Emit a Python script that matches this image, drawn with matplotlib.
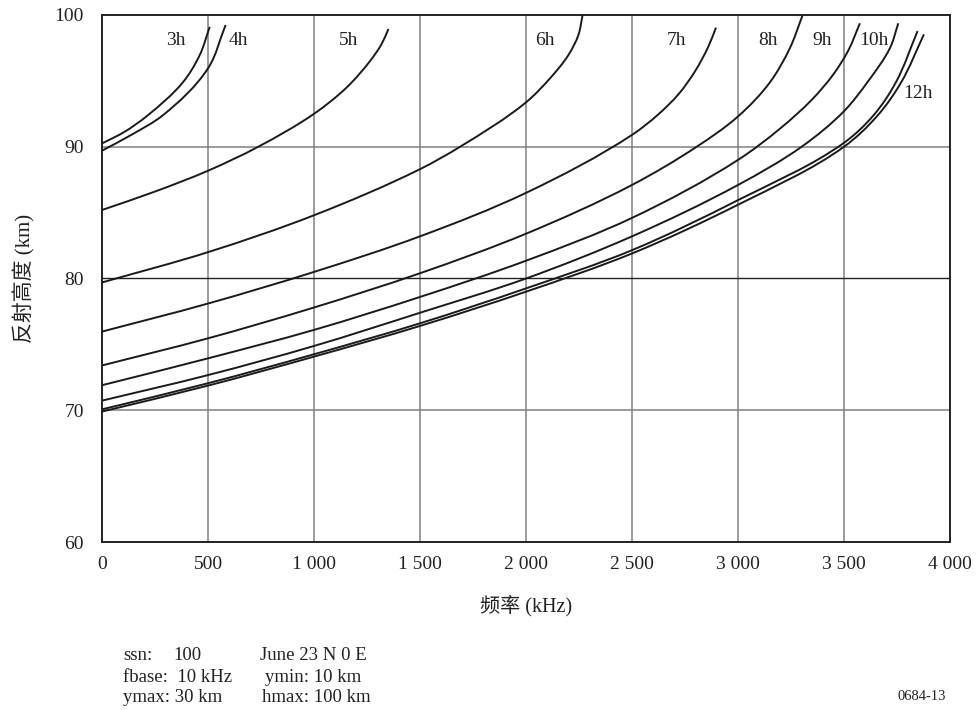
import matplotlib
matplotlib.use("Agg")
import numpy as np
import matplotlib.pyplot as plt
from matplotlib.path import Path
from matplotlib.patches import PathPatch

plt.rcParams['font.family'] = ['Liberation Serif', 'Noto Sans CJK SC', 'DejaVu Sans']

# Reflection height (km) against frequency (kHz), one curve per local hour
curve_names = ["3h", "4h", "5h", "6h", "7h", "8h", "9h", "10h", "11h", "12h"]

freq_3h = [0, 107, 217, 382, 461, 508]
height_3h = [90.25, 91.14, 92.4, 94.9, 96.96, 99.1]

freq_4h = [0, 138, 288, 500, 583]
height_4h = [89.7, 90.9, 92.4, 95.95, 99.24]

freq_5h = [0, 250, 500, 737, 1000, 1154, 1264, 1319, 1351]
height_5h = [85.2, 86.6, 88.18, 90.0, 92.5, 94.5, 96.5, 97.8, 98.94]

freq_6h = [0, 500, 1000, 1500, 1689, 2000, 2113, 2200, 2247, 2267]
height_6h = [79.7, 82.0, 84.8, 88.3, 90.0, 93.37, 95.19, 96.96, 98.48, 100.0]

freq_7h = [0, 500, 1000, 1500, 2000, 2500, 2620, 2720, 2800, 2860, 2896]
height_7h = [75.97, 78.1, 80.5, 83.2, 86.5, 90.9, 92.4, 94.0, 95.8, 97.6, 99.04]

freq_8h = [0, 500, 1000, 1500, 2000, 2500, 2805, 3000, 3151, 3245, 3305]
height_8h = [73.4, 75.46, 77.8, 80.4, 83.4, 87.1, 90.0, 92.3, 94.9, 97.5, 100.0]

freq_9h = [0, 500, 1000, 1500, 2000, 2500, 3000, 3200, 3350, 3450, 3520, 3575]
height_9h = [71.9, 73.94, 76.1, 78.6, 81.35, 84.6, 89.0, 91.4, 93.6, 95.5, 97.3, 99.37]

freq_10h = [0, 500, 1000, 1500, 2000, 2500, 3000, 3300, 3500, 3615, 3717, 3756]
height_10h = [70.73, 72.67, 74.88, 77.4, 80.0, 83.2, 87.1, 90.0, 92.7, 95.0, 97.5, 99.37]

freq_11h = [0, 500, 1000, 1500, 2000, 2500, 3000, 3500, 3640, 3745, 3847]
height_11h = [70.07, 72.05, 74.25, 76.6, 79.25, 82.15, 85.95, 90.3, 92.4, 94.9, 98.78]

freq_12h = [0, 500, 1000, 1500, 2000, 2500, 3000, 3500, 3660, 3770, 3877]
height_12h = [69.9, 71.87, 74.07, 76.4, 79.0, 81.9, 85.6, 90.0, 92.4, 94.9, 98.53]

curves = [
    (freq_3h, height_3h), (freq_4h, height_4h), (freq_5h, height_5h),
    (freq_6h, height_6h), (freq_7h, height_7h), (freq_8h, height_8h),
    (freq_9h, height_9h), (freq_10h, height_10h), (freq_11h, height_11h),
    (freq_12h, height_12h),
]

x_ticks = [0, 500, 1000, 1500, 2000, 2500, 3000, 3500, 4000]
x_tick_labels = ["0", "500", "1 000", "1 500", "2 000", "2 500", "3 000", "3 500", "4 000"]
y_ticks = [60, 70, 80, 90, 100]

# where each hour label sits (frequency, height); 11h carries no label
label_spots = {
    "3h": (349, 98.1), "4h": (642, 98.1), "5h": (1162, 98.1),
    "6h": (2090, 98.1), "7h": (2711, 98.1), "8h": (3143, 98.1),
    "9h": (3395, 98.1), "10h": (3640, 98.1), "12h": (3848, 94.05),
}

fig = plt.figure(figsize=(9.79, 7.10), dpi=100)
ax = fig.add_axes([0.1042, 0.2366, 0.8662, 0.7423])

ax.set_xlim(0, 4000)
ax.set_ylim(60, 100)


def smooth_path(f, h):
    """Cubic Bezier path through the given points (tangents from neighbours,
    computed in a frame scaled like the plot area)."""
    sx, sy = 848.0 / 4000.0, 527.0 / 40.0
    p = np.column_stack([np.asarray(f, float) * sx, np.asarray(h, float) * sy])
    n = len(p)
    tang = np.zeros_like(p)
    for i in range(n):
        if i == 0:
            d = p[1] - p[0]
        elif i == n - 1:
            d = p[-1] - p[-2]
        else:
            a = p[i] - p[i - 1]
            b = p[i + 1] - p[i]
            d = a / np.linalg.norm(a) + b / np.linalg.norm(b)
        tang[i] = d / np.linalg.norm(d)
    verts = [p[0]]
    codes = [Path.MOVETO]
    for i in range(n - 1):
        seg = np.linalg.norm(p[i + 1] - p[i]) / 3.0
        verts += [p[i] + tang[i] * seg, p[i + 1] - tang[i + 1] * seg, p[i + 1]]
        codes += [Path.CURVE4] * 3
    verts = np.array(verts)
    verts[:, 0] /= sx
    verts[:, 1] /= sy
    return Path(verts, codes)


# grid
for xv in x_ticks[1:-1]:
    ax.axvline(xv, color="#808080", lw=1.1, zorder=1)
for yv in (70, 90):
    ax.axhline(yv, color="#808080", lw=1.1, zorder=1)
ax.axhline(80, color="#222222", lw=1.0, zorder=1)

for (f, h) in curves:
    ax.add_patch(PathPatch(smooth_path(f, h), facecolor="none",
                           edgecolor="#1a1a1a", lw=1.4, zorder=3,
                           capstyle="butt"))

for name in curve_names:
    if name in label_spots:
        fx, hy = label_spots[name]
        ax.text(fx, hy, name, ha="center", va="center", fontsize=14,
                color="#222222", zorder=4)

ax.set_xticks(x_ticks)
ax.set_xticklabels(x_tick_labels)
ax.set_yticks(y_ticks)
ax.tick_params(axis="both", length=0, labelsize=14, colors="#222222")
ax.tick_params(axis="x", pad=10)
ax.tick_params(axis="y", pad=13)
for sp in ax.spines.values():
    sp.set_linewidth(1.4)
    sp.set_color("#222222")

ax.set_xlabel("频率 (kHz)", fontsize=14.5, color="#222222", labelpad=16)
ax.set_ylabel("反射高度 (km)", fontsize=15, color="#222222", labelpad=14)

# parameter block under the chart
W, H = 979.0, 710.0
def put(px, py, s, size=13.5):
    fig.text(px / W, 1 - py / H, s, ha="left", va="center", fontsize=size,
             color="#222222")

put(123, 655, "ssn:")
put(173, 655, "100")
put(260, 655, "June 23 N 0 E")
put(123, 677, "fbase:  10 kHz")
put(265, 677, "ymin: 10 km")
put(123, 697, "ymax: 30 km")
put(262, 697, "hmax: 100 km")
put(898, 697, "0684-13", size=10.5)

fig.savefig("out.png", dpi=100)
